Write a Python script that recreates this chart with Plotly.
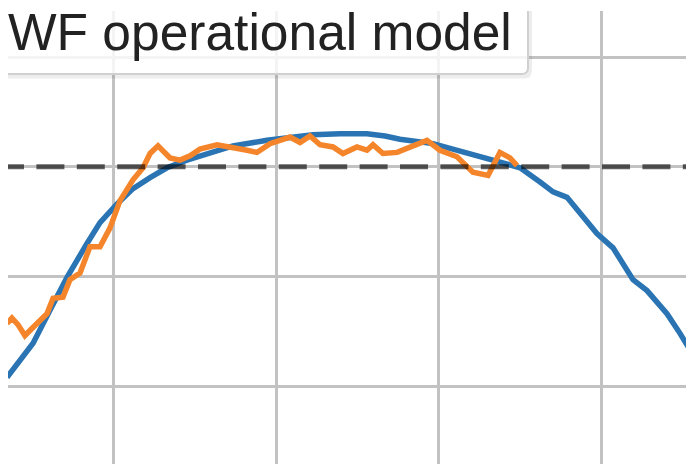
import plotly.graph_objects as go

# ---- data ----
model_x = [0.345, 0.425, 0.505, 0.609, 0.714, 0.837, 0.917, 1.022, 1.120, 1.225,
           1.329, 1.452, 1.575, 1.735, 1.945, 2.086, 2.228, 2.394, 2.560, 2.671,
           2.763, 2.966, 3.175, 3.378, 3.502, 3.625, 3.705, 3.791, 3.871, 3.975,
           4.074, 4.197, 4.283, 4.406, 4.486, 4.572]
model_y = [0.808, 0.824, 0.839, 0.869, 0.899, 0.930, 0.949, 0.966, 0.980, 0.990,
           0.999, 1.006, 1.012, 1.019, 1.024, 1.027, 1.029, 1.030, 1.030, 1.028,
           1.025, 1.021, 1.012, 1.004, 0.999, 0.986, 0.977, 0.972, 0.958, 0.939,
           0.926, 0.897, 0.887, 0.866, 0.848, 0.827]

measured_x = [0.345, 0.375, 0.412, 0.455, 0.529, 0.591, 0.628, 0.689, 0.732, 0.794,
              0.855, 0.917, 0.978, 1.040, 1.120, 1.182, 1.225, 1.274, 1.348, 1.409,
              1.471, 1.532, 1.637, 1.735, 1.822, 1.883, 1.963, 2.086, 2.148, 2.209,
              2.271, 2.351, 2.412, 2.498, 2.560, 2.597, 2.658, 2.745, 2.825, 2.929,
              3.009, 3.114, 3.212, 3.305, 3.378, 3.440, 3.483]
measured_y = [0.857, 0.862, 0.856, 0.846, 0.857, 0.866, 0.880, 0.881, 0.897, 0.903,
              0.927, 0.927, 0.944, 0.969, 0.988, 0.999, 1.012, 1.019, 1.008, 1.006,
              1.010, 1.016, 1.020, 1.018, 1.015, 1.013, 1.021, 1.027, 1.022, 1.028,
              1.020, 1.018, 1.012, 1.018, 1.015, 1.020, 1.012, 1.013, 1.018, 1.024,
              1.015, 1.009, 0.995, 0.992, 1.013, 1.008, 1.001]

reference_level = 1.0
reference_span = [0.277, 4.7]

x_grid = [1, 2, 3, 4]
y_grid = [0.8, 0.9, 1.0, 1.1]
x_range = [0.3508, 4.5723]
y_range = [0.72888, 1.14194]

legend_label = "WF operational model"

# ---- figure (page body has an 8px margin) ----
OFF = 8
W, H = 694 - OFF, 464 - OFF
ML, MT = 0, 3
PX0, PY0 = OFF + ML, OFF + MT          # plot-area origin on screen
PW, PH = W - ML, H - MT


def px_x(p):
    return (p - PX0) / PW


def px_y(p):
    return 1 - (p - PY0) / PH


fig = go.Figure()
fig.add_trace(go.Scatter(x=model_x, y=model_y, mode="lines",
                         line=dict(color="#2a74b3", width=5.5), showlegend=False))
fig.add_trace(go.Scatter(x=measured_x, y=measured_y, mode="lines",
                         line=dict(color="#f5852a", width=5.5), showlegend=False))
fig.add_trace(go.Scatter(x=reference_span, y=[reference_level] * 2, mode="lines",
                         line=dict(color="rgba(0,0,0,0.62)", width=5, dash="28px,12.4px"),
                         showlegend=False))

# legend box (partially cropped, as in the reference)
xr = px_x(528)
yb = px_y(74)
rx = 6 / PW
ry = 6 / PH
fig.add_shape(type="rect", xref="paper", yref="paper", x0=0, x1=xr, y0=yb, y1=1,
              fillcolor="rgba(255,255,255,0.82)", line=dict(width=0), layer="above")
fig.add_shape(type="path", xref="paper", yref="paper",
              path=f"M 0,{yb - 2.5/PH} L {xr - rx + 2/PW},{yb - 2.5/PH} Q {xr + 2/PW},{yb - 2.5/PH} {xr + 2/PW},{yb + ry - 2.5/PH} L {xr + 2/PW},1",
              line=dict(color="rgba(0,0,0,0.07)", width=4), layer="above")
fig.add_shape(type="path", xref="paper", yref="paper",
              path=f"M 0,{yb} L {xr - rx},{yb} Q {xr},{yb} {xr},{yb + ry} L {xr},1",
              line=dict(color="#d0d0d0", width=2), layer="above")
fig.add_annotation(text=legend_label, xref="paper", yref="paper",
                   x=px_x(6), y=px_y(31.5), xanchor="left", yanchor="middle",
                   showarrow=False,
                   font=dict(family="Liberation Sans, Arial, sans-serif", size=51.5, color="#222222"))

fig.update_xaxes(range=x_range, tickvals=x_grid, showticklabels=False, ticks="",
                 showgrid=True, gridcolor="#c2c2c2", gridwidth=3,
                 zeroline=False, showline=False)
fig.update_yaxes(range=y_range, tickvals=y_grid, showticklabels=False, ticks="",
                 showgrid=True, gridcolor="#c2c2c2", gridwidth=3,
                 zeroline=False, showline=False)
fig.update_layout(width=W, height=H, margin=dict(l=ML, r=0, t=MT, b=0, pad=0),
                  paper_bgcolor="white", plot_bgcolor="white", showlegend=False)

fig.write_html("out.html")
